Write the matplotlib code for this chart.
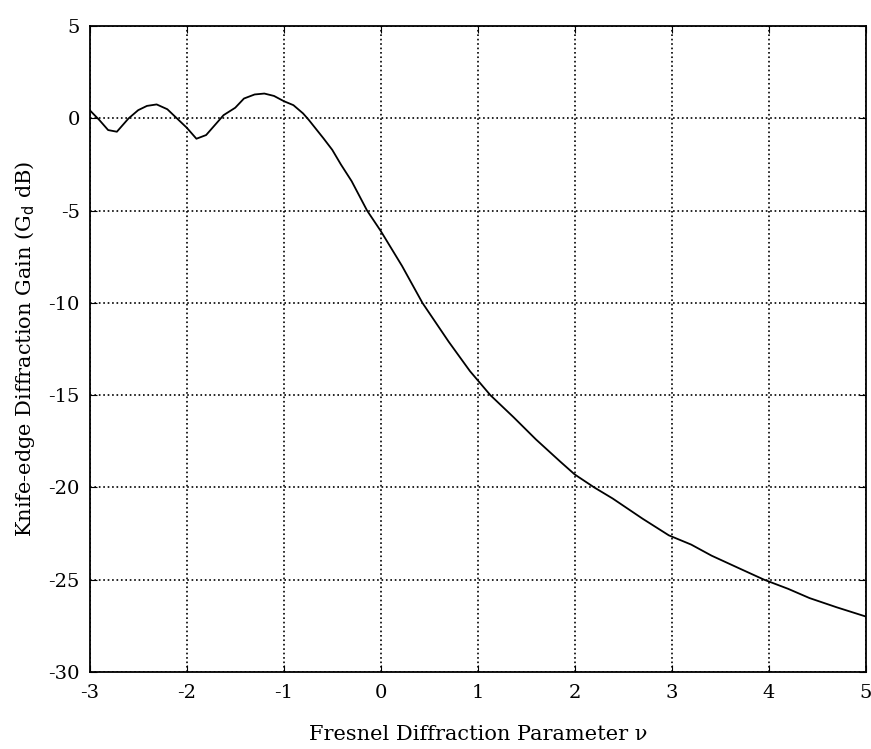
import numpy as np
import matplotlib
matplotlib.use('Agg')
import matplotlib.pyplot as plt

# values
nu = [-3.0, -2.9, -2.81, -2.72, -2.6, -2.5, -2.41, -2.31, -2.2, -2.12, -2.0, -1.9,
      -1.8, -1.75, -1.62, -1.5, -1.41, -1.3, -1.2, -1.1, -1.0, -0.9, -0.8, -0.74,
      -0.59, -0.5, -0.41, -0.3, -0.14, 0.0, 0.22, 0.43, 0.7, 0.92, 1.13, 1.37,
      1.6, 1.85, 2.0, 2.2, 2.39, 2.7, 2.97, 3.2, 3.41, 3.7, 3.95, 4.2, 4.42,
      4.7, 5.0]
gain = [0.45, -0.09, -0.63, -0.72, 0.0, 0.45, 0.68, 0.76, 0.5, 0.1, -0.5, -1.1,
        -0.9, -0.6, 0.18, 0.58, 1.08, 1.3, 1.35, 1.22, 0.94, 0.72, 0.27, -0.09,
        -1.08, -1.7, -2.5, -3.4, -5.0, -6.1, -8.0, -10.0, -12.1, -13.7, -15.0, -16.2,
        -17.4, -18.6, -19.3, -20.0, -20.6, -21.7, -22.6, -23.1, -23.7, -24.4, -25.0, -25.5, -26.0,
        -26.5, -27.0]

xticks = [-3, -2, -1, 0, 1, 2, 3, 4, 5]
yticks = [5, 0, -5, -10, -15, -20, -25, -30]

plt.rcParams['font.family'] = ['DejaVu Serif']
plt.rcParams['axes.unicode_minus'] = False

fig = plt.figure(figsize=(8.71, 7.49), dpi=100)
ax = fig.add_axes([0.103, 0.103, 0.891, 0.862])

ax.plot(nu, gain, color='black', linewidth=1.3)

ax.set_xlim((-3, 5))
ax.set_ylim((-30, 5))
ax.set_xticks(xticks)
ax.set_yticks(yticks)
ax.tick_params(direction='in', top=True, right=True, labelsize=14, length=5)
ax.tick_params(axis='x', pad=9)
ax.tick_params(axis='y', pad=7)

ax.grid(True, color='black', linestyle=':', linewidth=1.2)
for s in ax.spines.values():
    s.set_linewidth(1.3)

ax.set_xlabel('Fresnel Diffraction Parameter ν', fontsize=15, labelpad=16)
ax.set_ylabel('Knife-edge Diffraction Gain (G$_\\mathrm{d}$ dB)', fontsize=15, labelpad=8)

plt.savefig('out.png', dpi=100)
